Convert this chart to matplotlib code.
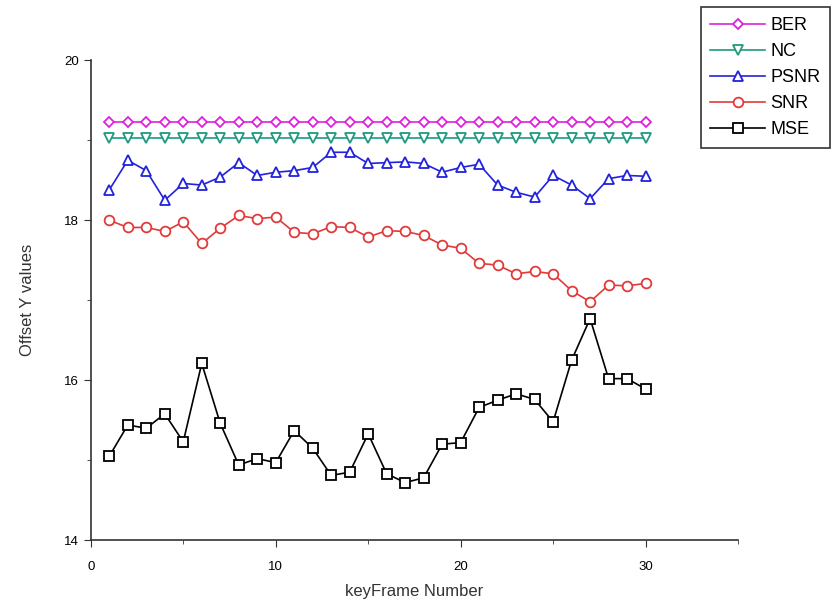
import matplotlib
matplotlib.use("Agg")
import matplotlib.pyplot as plt
from matplotlib.ticker import MultipleLocator

plt.rcParams['font.family'] = ['Liberation Sans', 'DejaVu Sans']

frames = list(range(1, 31))

ber = [19.23] * 30
nc = [19.03] * 30
psnr = [18.38, 18.75, 18.62, 18.25, 18.46, 18.44, 18.54, 18.72, 18.56, 18.60,
        18.62, 18.66, 18.85, 18.85, 18.71, 18.72, 18.73, 18.71, 18.60, 18.66,
        18.70, 18.44, 18.35, 18.29, 18.56, 18.44, 18.27, 18.52, 18.56, 18.55]
snr = [18.00, 17.91, 17.91, 17.86, 17.98, 17.71, 17.90, 18.06, 18.02, 18.04,
       17.85, 17.83, 17.92, 17.91, 17.79, 17.87, 17.86, 17.81, 17.69, 17.65,
       17.46, 17.44, 17.33, 17.36, 17.33, 17.12, 16.98, 17.19, 17.18, 17.21]
mse = [15.05, 15.44, 15.40, 15.58, 15.23, 16.21, 15.46, 14.94, 15.02, 14.97,
       15.37, 15.15, 14.81, 14.85, 15.33, 14.83, 14.72, 14.78, 15.20, 15.22,
       15.66, 15.75, 15.83, 15.76, 15.48, 16.25, 16.77, 16.02, 16.02, 15.89]

series = [
    ("BER", ber, "#dd22dd", "D", 5.5),
    ("NC", nc, "#1f9a80", "v", 7),
    ("PSNR", psnr, "#2222dd", "^", 7),
    ("SNR", snr, "#e23a3a", "o", 7),
    ("MSE", mse, "black", "s", 6.5),
]

fig = plt.figure(figsize=(8.33, 6.09), dpi=100)
ax = fig.add_axes([0.109, 0.113, 0.777, 0.788])

for name, vals, col, mk, ms in series:
    ax.plot(frames, vals, color=col, marker=mk, markersize=ms,
            markerfacecolor="white", markeredgecolor=col, markeredgewidth=1.3,
            linewidth=1.2, label=name)

ax.set_xlim(0, 35)
ax.set_ylim(14, 20)
ax.xaxis.set_major_locator(MultipleLocator(10))
ax.xaxis.set_minor_locator(MultipleLocator(5))
ax.yaxis.set_major_locator(MultipleLocator(2))
ax.yaxis.set_minor_locator(MultipleLocator(1))
ax.tick_params(which="both", direction="out", labelsize=9.5, color="#333333")
ax.tick_params(which="major", length=5)
ax.tick_params(which="minor", length=3)
ax.tick_params(axis="x", which="major", pad=10)
for s in ("top", "right"):
    ax.spines[s].set_visible(False)
for s in ("left", "bottom"):
    ax.spines[s].set_linewidth(1.2)
    ax.spines[s].set_color("#333333")

ax.set_xlabel("keyFrame Number", fontsize=12, color="#333333", labelpad=8)
ax.set_ylabel("Offset Y values", fontsize=12, color="#333333", labelpad=21)

leg = fig.legend(loc="upper left", bbox_to_anchor=(0.841, 0.988), fontsize=13,
                 frameon=True, fancybox=False, handlelength=3.0,
                 borderpad=0.55, labelspacing=0.5, handletextpad=0.3,
                 borderaxespad=0)
leg.get_frame().set_edgecolor("black")
leg.get_frame().set_linewidth(1.2)

fig.savefig("out.png", dpi=100)
